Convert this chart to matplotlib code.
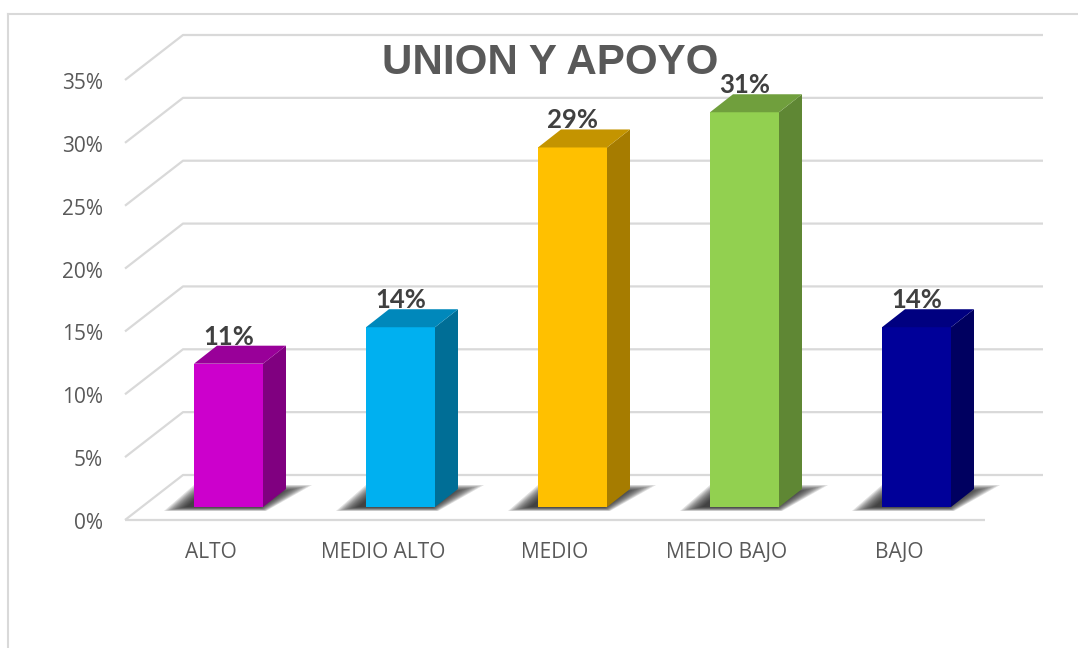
import numpy as np
import matplotlib.pyplot as plt
from matplotlib.lines import Line2D
from matplotlib.patches import Polygon

categories = ["ALTO", "MEDIO ALTO", "MEDIO", "MEDIO BAJO", "BAJO"]
values = [11.4, 14.3, 28.6, 31.4, 14.3]
y_ticks = [0, 5, 10, 15, 20, 25, 30, 35]
title = "UNION Y APOYO"

front_colors = ["#CC00CC", "#00B0F0", "#FFC000", "#92D050", "#000099"]
side_colors = ["#800080", "#006E96", "#A67C00", "#5F8734", "#000060"]
top_colors = ["#990099", "#0088BB", "#C49400", "#709F3D", "#000080"]

W, H = 1078, 648
fig = plt.figure(figsize=(W / 100, H / 100), dpi=100)
ax = fig.add_axes([125 / W, (H - 520) / H, 860 / W, 440 / H])
ax.set_xlim(-0.5, 4.5)
ax.set_ylim(0, 35)
ax.axis("off")

# axes run 172 px per category and 62.86 px per 5%
PX_X = 1 / 172
PX_Y = 35 / 440
GRID = "#D9D9D9"
TEXT = "#595959"

# outer frame of the chart area
fig.add_artist(Line2D([8 / W, 8 / W], [0, (H - 14) / H], color=GRID, lw=1.5))
fig.add_artist(Line2D([8 / W, 1], [(H - 14) / H, (H - 14) / H], color=GRID, lw=1.5))

# back wall and floor lines
x0, x1 = -0.5, 4.5
back_dx, back_dy = 58 * PX_X, 45 * PX_Y
for t in y_ticks:
    ax.plot([x0, x0 + back_dx, x1 + back_dx], [t, t + back_dy, t + back_dy],
            color=GRID, lw=1.6, clip_on=False, zorder=1, solid_capstyle="butt")
    ax.text(x0 - 22 * PX_X, t - 3.5 * PX_Y, f"{t}%", ha="right", va="center",
            fontsize=15, color=TEXT, family="Open Sans")
ax.plot([x0, x1], [0, 0], color=GRID, lw=1.6, clip_on=False, zorder=1, solid_capstyle="butt")

# bars: front face, top and side built from the value
left, right = -17 * PX_X, 52 * PX_X
base = 13 * PX_Y
depth_x, depth_y = 23 * PX_X, 18 * PX_Y


def draw_shadow(c):
    # soft floor shadow, stacked see-through polygons (px from bar foot, y down)
    outer = np.array([[-30, 4], [72, 4], [118, -22], [0, -22]], dtype=float)
    inner = np.array([[-8, 0], [66, 0], [86, -15], [10, -15]], dtype=float)
    steps = 12
    for i in range(steps):
        pts = outer + (inner - outer) * i / (steps - 1)
        xy = np.column_stack([c + left + pts[:, 0] * PX_X, base - pts[:, 1] * PX_Y])
        ax.add_patch(Polygon(xy, closed=True, fc="#1A1A1A", ec="none", alpha=0.13,
                             clip_on=False, zorder=2))


for i, (name, val) in enumerate(zip(categories, values)):
    draw_shadow(i)
    l, r = i + left, i + right
    top = base + val
    ax.add_patch(Polygon([(l, base), (r, base), (r, top), (l, top)],
                         fc=front_colors[i], ec="none", clip_on=False, zorder=4))
    ax.add_patch(Polygon([(r, base), (r + depth_x, base + depth_y),
                          (r + depth_x, top + depth_y), (r, top)],
                         fc=side_colors[i], ec="none", clip_on=False, zorder=4))
    ax.add_patch(Polygon([(l, top), (r, top), (r + depth_x, top + depth_y),
                          (l + depth_x, top + depth_y)],
                         fc=top_colors[i], ec="none", clip_on=False, zorder=4))
    ax.text(i + 17.5 * PX_X, top + 27 * PX_Y, f"{val:.0f}%", ha="center", va="center",
            fontsize=18.5, fontweight="bold", color="#404040", family="Lato", zorder=6)
    ax.text(i, -33 * PX_Y, name, ha="center", va="center",
            fontsize=15, color=TEXT, family="Open Sans")

fig.text(550 / W, (H - 63) / H, title, ha="center", va="center", fontsize=30.3,
         fontweight="bold", color=TEXT, family="Liberation Sans", zorder=5)

fig.savefig("out.png", dpi=100)
